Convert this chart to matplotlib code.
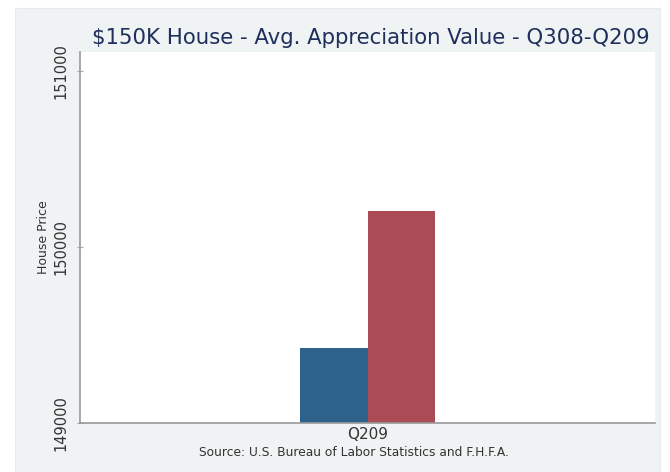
import matplotlib
matplotlib.use("Agg")
import matplotlib.pyplot as plt
from matplotlib.patches import Rectangle

# data
category = ["Q209"]
series_names = ["Q308", "Q209"]
series_values = [149425, 150205]
series_colors = ["#2c628c", "#aa4b55"]
y_ticks = [149000, 150000, 151000]

W, H = 670, 472
fig = plt.figure(figsize=(W / 100, H / 100), dpi=100, facecolor="white")

# light panel behind the graph
fig.patches.append(Rectangle((15 / W, 0), 645 / W, (H - 8) / H,
                             transform=fig.transFigure, facecolor="#eff3f3",
                             edgecolor="#e6eaea", linewidth=0.8, zorder=-5))

ax = fig.add_axes([80 / W, (H - 423) / H, 575 / W, (423 - 52) / H])
ax.set_zorder(2)
ax.set_facecolor("white")

offsets = [-0.118, 0.118]
for off, val, col in zip(offsets, series_values, series_colors):
    ax.bar(off, val - y_ticks[0], bottom=y_ticks[0], width=0.236,
           color=col, linewidth=0, zorder=2)

ax.set_xlim(-1, 1)
ax.set_ylim(149000, 151108)
ax.set_xticks([0])
ax.set_xticklabels(category, fontsize=11, color="#333333")
ax.set_yticks(y_ticks)
ax.set_yticklabels([str(t) for t in y_ticks], rotation=90, va="center",
                   fontsize=10.5, color="#333333")
ax.tick_params(axis="x", length=0, pad=3)
ax.tick_params(axis="y", length=4, direction="inout", color="#aaaaaa", pad=6)
ax.set_ylabel("House Price", fontsize=9, color="#333333", labelpad=3)

for side in ("top", "right"):
    ax.spines[side].set_visible(False)
for side in ("left", "bottom"):
    ax.spines[side].set_color("#9a9a9a")
    ax.spines[side].set_linewidth(1.2)

fig.text(371 / W, 1 - 38 / H, "$150K House - Avg. Appreciation Value - Q308-Q209",
         ha="center", va="center", fontsize=15.3, color="#1f2f5c")
fig.text(354 / W, 1 - 452 / H, "Source: U.S. Bureau of Labor Statistics and F.H.F.A.",
         ha="center", va="center", fontsize=8.8, color="#333333")

fig.savefig("out.png", dpi=100, facecolor="white")
